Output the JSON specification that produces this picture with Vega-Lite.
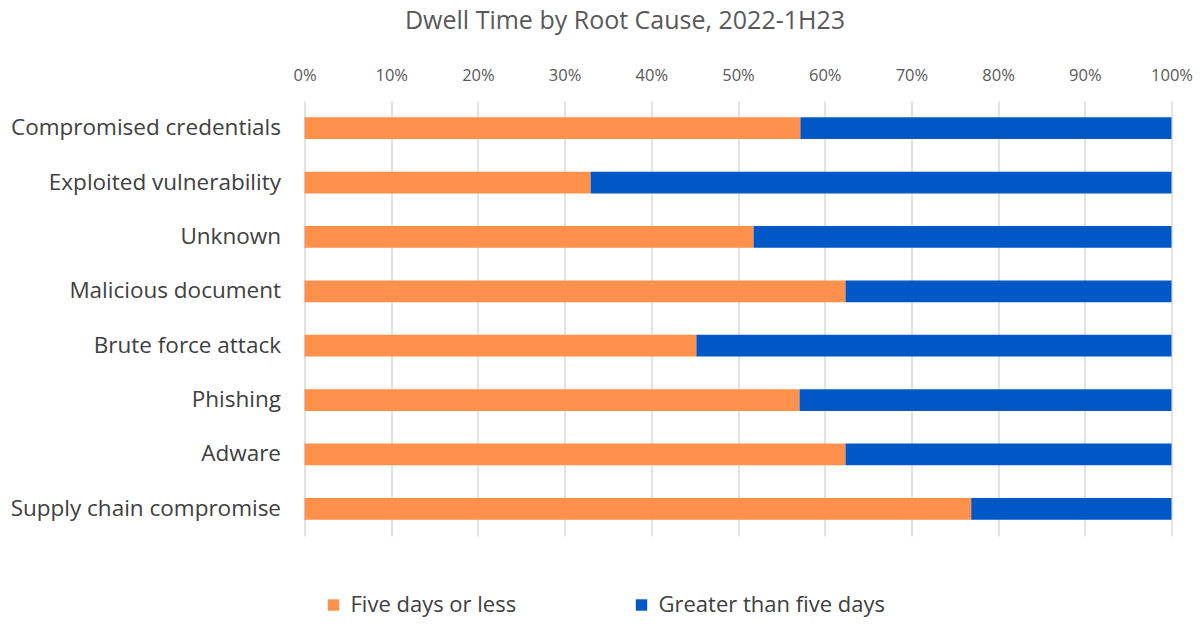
{
  "$schema": "https://vega.github.io/schema/vega-lite/v6.json",
  "width": 867,
  "height": 435,
  "autosize": {"type": "none"},
  "padding": {"left": 304.5, "top": 101, "right": 30.5, "bottom": 94},
  "background": "#ffffff",
  "title": {
    "text": "Dwell Time by Root Cause, 2022-1H23",
    "fontSize": 25,
    "font": "Open Sans",
    "fontWeight": "normal",
    "color": "#595959",
    "anchor": "middle",
    "dx": -113,
    "offset": 33
  },
  "data": {
    "values": [
      {"cause": "Compromised credentials", "category": "Five days or less", "value": 0.572},
      {"cause": "Compromised credentials", "category": "Greater than five days", "value": 0.428},
      {"cause": "Exploited vulnerability", "category": "Five days or less", "value": 0.330},
      {"cause": "Exploited vulnerability", "category": "Greater than five days", "value": 0.670},
      {"cause": "Unknown", "category": "Five days or less", "value": 0.518},
      {"cause": "Unknown", "category": "Greater than five days", "value": 0.482},
      {"cause": "Malicious document", "category": "Five days or less", "value": 0.624},
      {"cause": "Malicious document", "category": "Greater than five days", "value": 0.376},
      {"cause": "Brute force attack", "category": "Five days or less", "value": 0.452},
      {"cause": "Brute force attack", "category": "Greater than five days", "value": 0.548},
      {"cause": "Phishing", "category": "Five days or less", "value": 0.571},
      {"cause": "Phishing", "category": "Greater than five days", "value": 0.429},
      {"cause": "Adware", "category": "Five days or less", "value": 0.624},
      {"cause": "Adware", "category": "Greater than five days", "value": 0.376},
      {"cause": "Supply chain compromise", "category": "Five days or less", "value": 0.769},
      {"cause": "Supply chain compromise", "category": "Greater than five days", "value": 0.231}
    ]
  },
  "mark": {"type": "bar"},
  "encoding": {
    "y": {
      "field": "cause",
      "type": "nominal",
      "sort": ["Compromised credentials", "Exploited vulnerability", "Unknown", "Malicious document", "Brute force attack", "Phishing", "Adware", "Supply chain compromise"],
      "scale": {"paddingInner": 0.6, "paddingOuter": 0.3},
      "axis": {
        "title": null,
        "domain": false,
        "ticks": false,
        "grid": false,
        "labelFont": "Open Sans",
        "labelFontSize": 22.5,
        "labelColor": "#404040",
        "labelPadding": 24,
        "labelLimit": 400
      }
    },
    "x": {
      "field": "value",
      "type": "quantitative",
      "stack": "zero",
      "scale": {"domain": [0, 1], "nice": false},
      "axis": {
        "orient": "top",
        "title": null,
        "format": ".0%",
        "values": [0, 0.1, 0.2, 0.3, 0.4, 0.5, 0.6, 0.7, 0.8, 0.9, 1],
        "domain": false,
        "ticks": false,
        "grid": true,
        "gridColor": "#d9d9d9",
        "gridWidth": 1.5,
        "labelFlush": false,
        "labelOverlap": false,
        "labelFont": "Open Sans",
        "labelFontSize": 16.5,
        "labelColor": "#595959",
        "labelPadding": 18
      }
    },
    "color": {
      "field": "category",
      "type": "nominal",
      "scale": {
        "domain": ["Five days or less", "Greater than five days"],
        "range": ["#FF914D", "#0057C6"]
      },
      "legend": {
        "title": null,
        "orient": "none",
        "direction": "horizontal",
        "legendX": 18,
        "legendY": 493,
        "symbolType": "square",
        "symbolSize": 130,
        "symbolStrokeWidth": 0,
        "labelFont": "Open Sans",
        "labelFontSize": 22,
        "labelColor": "#404040",
        "labelOffset": 6,
        "columnPadding": 114,
        "labelLimit": 400
      }
    }
  },
  "config": {
    "view": {"stroke": null}
  }
}
